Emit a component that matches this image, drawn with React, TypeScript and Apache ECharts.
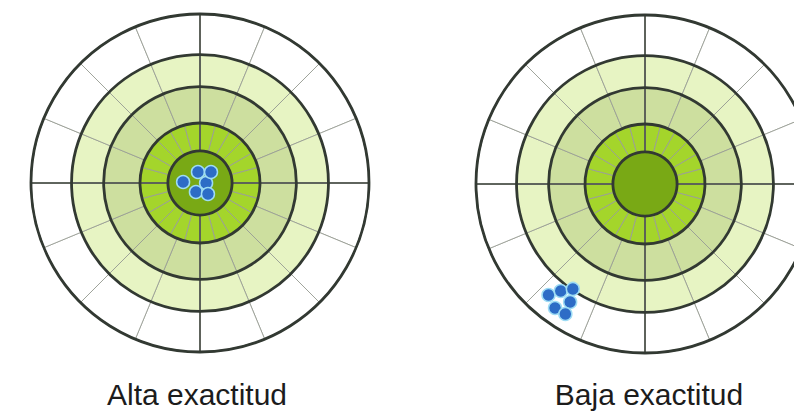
import React, { useEffect, useRef } from "react";
import * as echarts from "echarts";

// Target geometry in target units (outer radius = 10)
const ringRadii = [1.9, 3.55, 5.7, 7.6, 10];
const ringColors = ["#79a915", "#a4d52b", "#cddf9f", "#e7f4c3", "#ffffff"];
const ringSegments = [1, 24, 16, 16, 16];

const targetNames = ["Alta exactitud", "Baja exactitud"];

// Shot positions (target units, y up)
const leftShotsX = [0.36, -0.12, 0.65, -1.0, -0.24, 0.47];
const leftShotsY = [0.0, 0.65, 0.65, 0.06, -0.53, -0.65];
const rightShotsX = [-5.44, -4.67, -3.91, -5.03, -4.08, -4.38];
const rightShotsY = [-6.57, -6.33, -6.21, -7.34, -6.98, -7.69];

// Layout
const centers = [
  [200, 183],
  [645, 184],
];
const R = 169; // px for 10 units
const unitPx = R / 10;

function buildOption() {
  const series: any[] = [];
  const grids: any[] = [];
  const xAxes: any[] = [];
  const yAxes: any[] = [];
  const graphics: any[] = [];
  const shots = [
    leftShotsX.map((x, i) => [x, leftShotsY[i]]),
    rightShotsX.map((x, i) => [x, rightShotsY[i]]),
  ];

  centers.forEach(([cx, cy], t) => {
    const common = {
      type: "pie",
      center: [cx, cy],
      silent: true,
      animation: false,
      label: { show: false },
      labelLine: { show: false },
      emphasis: { disabled: true },
      avoidLabelOverlap: false,
      startAngle: 90,
    };
    // filled ring bands with thin radial divisions
    ringRadii.forEach((r, i) => {
      const rin = i === 0 ? 0 : ringRadii[i - 1] * unitPx;
      const n = ringSegments[i];
      series.push({
        ...common,
        z: 1,
        radius: [rin, r * unitPx],
        data: Array.from({ length: n }, () => ({ value: 1 })),
        itemStyle: {
          color: ringColors[i],
          borderColor: n > 1 ? "#9a9e95" : ringColors[i],
          borderWidth: n > 1 ? 0.9 : 0,
        },
      });
    });
    // main cross
    series.push({
      ...common,
      z: 2,
      radius: [ringRadii[0] * unitPx, R],
      data: [1, 1, 1, 1].map((v) => ({ value: v })),
      itemStyle: { color: "rgba(0,0,0,0)", borderColor: "#5a5f58", borderWidth: 1.6 },
    });
    // dark circles
    ringRadii.forEach((r) => {
      series.push({
        ...common,
        z: 3,
        radius: [0, r * unitPx],
        data: [{ value: 1 }],
        itemStyle: { color: "rgba(0,0,0,0)", borderColor: "#323932", borderWidth: 2.8 },
      });
    });

    grids.push({ left: cx - R, top: cy - R, width: 2 * R, height: 2 * R, show: false });
    xAxes.push({ type: "value", min: -10, max: 10, show: false, gridIndex: t });
    yAxes.push({ type: "value", min: -10, max: 10, show: false, gridIndex: t });
    series.push({
      type: "scatter",
      xAxisIndex: t,
      yAxisIndex: t,
      z: 10,
      silent: true,
      symbolSize: 13,
      data: shots[t],
      itemStyle: { color: "#2d6cc6", borderColor: "#9edcf4", borderWidth: 1.5, opacity: 1 },
    });

    graphics.push({
      type: "text",
      x: t === 0 ? 197 : 649,
      y: 394,
      style: {
        text: targetNames[t],
        fontFamily: "'Liberation Sans', Arial, sans-serif",
        fontSize: 30,
        fill: "#1c1c1c",
        textAlign: "center",
        textVerticalAlign: "middle",
      },
    });
  });

  return {
    animation: false,
    backgroundColor: "#ffffff",
    grid: grids,
    xAxis: xAxes,
    yAxis: yAxes,
    series,
    graphic: graphics,
  };
}

export default function App() {
  const ref = useRef<HTMLDivElement>(null);
  useEffect(() => {
    if (!ref.current) return;
    const chart = echarts.init(ref.current, undefined, { renderer: "svg" });
    chart.setOption(buildOption());
    return () => chart.dispose();
  }, []);
  return (
    <div
      ref={ref}
      style={{ position: "absolute", left: 0, top: 0, width: 794, height: 412 }}
    />
  );
}
